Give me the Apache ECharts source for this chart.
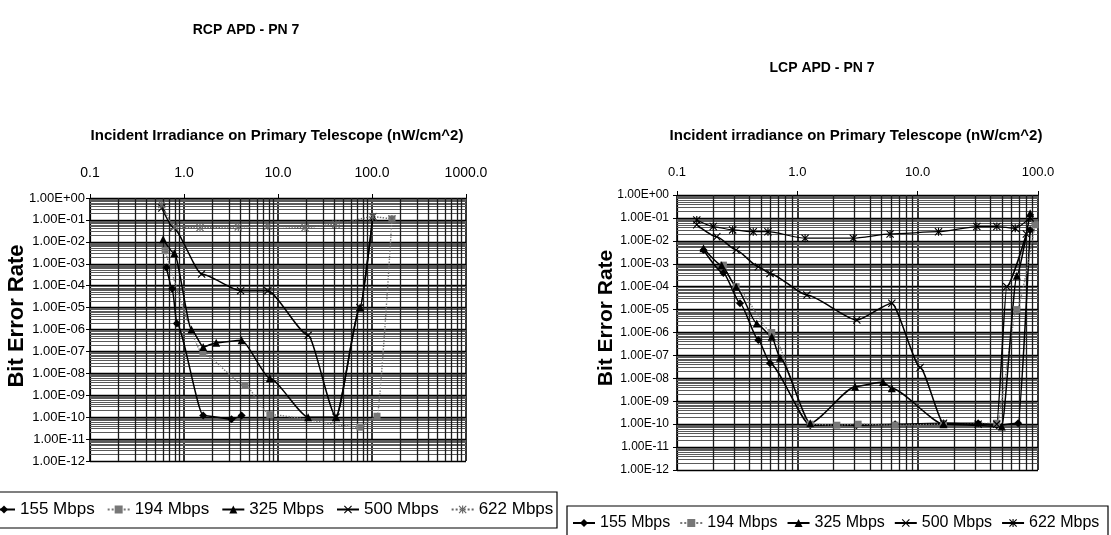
<!DOCTYPE html>
<html>
<head>
<meta charset="utf-8">
<script src="https://cdn.jsdelivr.net/npm/echarts@6/dist/echarts.min.js"></script>
<style>
html,body{margin:0;padding:0;background:#fff;}
#chart{width:1111px;height:535px;}
</style>
</head>
<body>
<div id="chart"></div>
<script>
// ---------------- DATA ----------------
const seriesNames = ['155 Mbps', '194 Mbps', '325 Mbps', '500 Mbps', '622 Mbps'];
const yTickLabels = ['1.00E+00','1.00E-01','1.00E-02','1.00E-03','1.00E-04','1.00E-05','1.00E-06','1.00E-07','1.00E-08','1.00E-09','1.00E-10','1.00E-11','1.00E-12'];
const xTickLabelsRcp = ['0.1', '1.0', '10.0', '100.0', '1000.0'];
const xTickLabelsLcp = ['0.1', '1.0', '10.0', '100.0'];

// RCP APD - PN 7 (left)
const rcp155X = [0.65, 0.75, 0.84, 1.6, 3.2, 4.1];
const rcp155Y = [6.8e-4, 7.2e-5, 1.9e-6, 1.2e-10, 8e-11, 1.2e-10];
const rcp194X = [0.63, 1.59, 4.46, 8.2, 74.5, 113, 163];
const rcp194Y = [4e-3, 8e-8, 2.8e-9, 1.3e-10, 3.5e-11, 1.1e-10, 0.11];
const rcp325X = [0.6, 0.79, 1.2, 1.6, 2.2, 4.1, 8.2, 20.9, 41.4, 74.5, 102];
const rcp325Y = [1.3e-2, 3e-3, 1e-6, 1.6e-7, 2.5e-7, 3.2e-7, 5.9e-9, 1e-10, 1e-10, 1e-5, 0.14];
const rcp500X = [0.58, 0.77, 1.54, 4.0, 7.8, 20.9, 41.4, 74.5, 102];
const rcp500Y = [0.35, 4.5e-2, 3.4e-4, 5.9e-5, 5.9e-5, 5.4e-7, 1e-10, 1e-5, 0.14];
const rcp622X = [0.58, 0.79, 1.48, 3.78, 7.8, 19.4, 41.4, 102, 163];
const rcp622Y = [0.5, 4.8e-2, 4.5e-2, 4.8e-2, 5.3e-2, 4.5e-2, 6.4e-2, 0.14, 0.11];

// LCP APD - PN 7 (right)
const lcp155X = [0.166, 0.243, 0.334, 0.474, 0.593, 1.28, 3.1, 6.5, 16.4, 31.8, 45.4, 68.4, 86];
const lcp155Y = [4e-3, 3.9e-4, 1.9e-5, 4.7e-7, 4.6e-8, 9e-11, 9e-11, 1e-10, 1.1e-10, 1.1e-10, 9e-11, 1.1e-10, 3e-2];
const lcp194X = [0.243, 0.31, 0.613, 1.28, 2.13, 3.2, 6.5, 16.4, 45.4, 66.7, 94.6];
const lcp194Y = [8.7e-4, 1e-4, 1e-6, 1e-10, 9e-11, 1e-10, 9e-11, 1e-10, 1.1e-10, 1e-5, 5e-2];
const lcp325X = [0.166, 0.235, 0.31, 0.46, 0.613, 0.718, 1.28, 3.02, 5.15, 6.1, 16.4, 50, 66.7, 86];
const lcp325Y = [4.7e-3, 8.7e-4, 1e-4, 2.5e-6, 6.5e-7, 8e-8, 1.1e-10, 4.3e-9, 7e-9, 3.7e-9, 1e-10, 8e-11, 3e-4, 0.16];
const lcp500X = [0.146, 0.214, 0.31, 0.474, 0.593, 1.2, 3.12, 6.1, 10.5, 16.4, 31.8, 45.4, 55, 80];
const lcp500Y = [5e-2, 1.5e-2, 4e-3, 7.4e-4, 3.8e-4, 4.3e-5, 3.5e-6, 1.9e-5, 3e-8, 1.1e-10, 1e-10, 1e-10, 1e-4, 2e-2];
const lcp622X = [0.146, 0.2, 0.29, 0.43, 0.57, 1.16, 2.92, 5.9, 14.9, 31, 45.5, 64.7, 86];
const lcp622Y = [0.081, 0.042, 0.03, 0.025, 0.025, 0.013, 0.013, 0.02, 0.025, 0.042, 0.042, 0.035, 0.1];

// ---------------- STYLE ----------------
const FONT = '"Liberation Sans",Arial,sans-serif';
const X_PATH = 'path://M0,1L1,0L5,4L9,0L10,1L6,5L10,9L9,10L5,6L1,10L0,9L4,5Z';
const AST_PATH = 'path://M0,1L1,0L5,4L9,0L10,1L6,5L10,9L9,10L5,6L1,10L0,9L4,5ZM4.3,0L5.7,0L5.7,10L4.3,10Z';

const styleRcp = [
  {color:'#000', symbol:'diamond', size:8, type:'solid', width:1.5},
  {color:'#777', symbol:'rect', size:7, type:'dotted', width:1.4},
  {color:'#000', symbol:'triangle', size:8, type:'solid', width:1.5},
  {color:'#000', symbol:X_PATH, size:8, type:'solid', width:1.5},
  {color:'#666', symbol:AST_PATH, size:8, type:'dotted', width:1.4}
];
const styleLcp = [
  {color:'#000', symbol:'diamond', size:8, type:'solid', width:1.5},
  {color:'#777', symbol:'rect', size:7, type:'dotted', width:1.4},
  {color:'#000', symbol:'triangle', size:8, type:'solid', width:1.5},
  {color:'#000', symbol:X_PATH, size:8, type:'solid', width:1.5},
  {color:'#000', symbol:AST_PATH, size:8, type:'solid', width:1.2}
];

function zip(xs, ys){ return xs.map((x,i)=>[x, ys[i]]); }
function mkSeries(name, xs, ys, st, gi){
  return {
    type:'line', name:name, xAxisIndex:gi, yAxisIndex:gi,
    data: zip(xs, ys), smooth:0.2, smoothMonotone:'x',
    symbol: st.symbol, symbolSize: st.size, showAllSymbol:true,
    lineStyle:{color:st.color, width:st.width, type:st.type},
    itemStyle:{color:st.color},
    emphasis:{disabled:true}, z:5
  };
}
// minor log grid positions (m * 10^e)
function minors(e0, e1){
  const out = [];
  for (let e = e0; e < e1; e++) for (let m = 2; m <= 9; m++) out.push(m * Math.pow(10, e));
  return out;
}
function gridSeries(gi, xe0, xe1){
  const vx = minors(xe0, xe1).map(v => ({xAxis:v, lineStyle:{color:'#1a1a1a', width:1.3, type:'solid'}}));
  // horizontal minors on the hidden linear (log10) helper axis
  const hy = minors(-12, 0).map(v => ({yAxis:Math.log10(v), lineStyle:{color:'#5a5a5a', width:1, type:'solid'}}));
  return {
    type:'line', name:'grid'+gi, xAxisIndex:gi, yAxisIndex:2+gi, data:[], silent:true, z:1,
    markLine:{silent:true, symbol:['none','none'], label:{show:false}, animation:false, precision:6,
      emphasis:{disabled:true}, data: hy.concat(vx)}
  };
}

const rcpX = [rcp155X, rcp194X, rcp325X, rcp500X, rcp622X];
const rcpY = [rcp155Y, rcp194Y, rcp325Y, rcp500Y, rcp622Y];
const lcpX = [lcp155X, lcp194X, lcp325X, lcp500X, lcp622X];
const lcpY = [lcp155Y, lcp194Y, lcp325Y, lcp500Y, lcp622Y];
const lcpNames = seriesNames.map(n => n + '\u200b');

const series = [gridSeries(0, -1, 3), gridSeries(1, -1, 2)];
seriesNames.forEach((n,i)=> series.push(mkSeries(n, rcpX[i], rcpY[i], styleRcp[i], 0)));
lcpNames.forEach((n,i)=> series.push(mkSeries(n, lcpX[i], lcpY[i], styleLcp[i], 1)));

function xAxisCfg(gi, maxV, labels, fs, margin){
  return {
    type:'log', logBase:10, gridIndex:gi, position:'top', min:0.1, max:maxV, interval:1,
    axisLine:{show:true, onZero:false, lineStyle:{color:'#000', width:1.2}},
    axisTick:{show:true, length:4, lineStyle:{color:'#000'}},
    axisLabel:{color:'#000', fontSize:fs, fontFamily:FONT, margin:margin,
      formatter: v => labels[Math.round(Math.log10(v)) + 1]},
    splitLine:{show:true, lineStyle:{color:'#000', width:1.6}}
  };
}
function yAxisCfg(gi, fs, margin){
  return {
    type:'log', logBase:10, gridIndex:gi, min:1e-12, max:1, interval:1,
    axisLine:{show:true, onZero:false, lineStyle:{color:'#000', width:1.2}},
    axisTick:{show:true, length:4, lineStyle:{color:'#000'}},
    axisLabel:{color:'#000', fontSize:fs, fontFamily:FONT, margin:margin,
      formatter: v => yTickLabels[Math.round(-Math.log10(v))]},
    splitLine:{show:true, lineStyle:{color:'#000', width:1.3}}
  };
}
function helperY(gi){
  return {type:'value', gridIndex:gi, min:-12, max:0, show:false,
    axisLine:{show:false}, axisTick:{show:false}, axisLabel:{show:false}, splitLine:{show:false}};
}

function txt(x, y, text, size, rot){
  return {type:'text', x:x, y:y, rotation:rot || 0, silent:true, z:10,
    style:{text:text, font:'bold ' + size + 'px ' + FONT, fill:'#000',
      align:'center', verticalAlign:'middle', textAlign:'center', textVerticalAlign:'middle'}};
}

const option = {
  animation:false,
  backgroundColor:'#fff',
  grid:[
    {left:90, top:198, width:376, height:263},
    {left:677, top:195, width:361, height:275}
  ],
  xAxis:[xAxisCfg(0, 1000, xTickLabelsRcp, 14, 18), xAxisCfg(1, 100, xTickLabelsLcp, 13, 16)],
  yAxis:[yAxisCfg(0, 13, 5), yAxisCfg(1, 12, 8), helperY(0), helperY(1)],
  legend:[
    {data:seriesNames, left:-8, top:501, width:570, orient:'horizontal', itemWidth:22, itemHeight:10, itemGap:12,
      textStyle:{color:'#000', fontSize:17, fontFamily:FONT}, selectedMode:false, padding:0},
    {data:lcpNames, left:572, top:515, width:545, orient:'horizontal', itemWidth:22, itemHeight:10, itemGap:9,
      textStyle:{color:'#000', fontSize:16, fontFamily:FONT}, selectedMode:false, padding:0}
  ],
  graphic:[
    txt(246, 30, 'RCP APD - PN 7', 14),
    txt(822, 68, 'LCP APD - PN 7', 14),
    txt(277, 136, 'Incident Irradiance on Primary Telescope (nW/cm^2)', 15),
    txt(856, 136, 'Incident irradiance on Primary Telescope (nW/cm^2)', 15),
    txt(17, 316, 'Bit Error Rate', 22, Math.PI / 2),
    txt(606, 318, 'Bit Error Rate', 21, Math.PI / 2),
    {type:'rect', silent:true, shape:{x:-2, y:492, width:559, height:36}, style:{fill:'none', stroke:'#000', lineWidth:1.2}},
    {type:'rect', silent:true, shape:{x:567, y:506, width:541, height:36}, style:{fill:'none', stroke:'#000', lineWidth:1.2}}
  ],
  series:series
};

const chart = echarts.init(document.getElementById('chart'), null, {renderer:'canvas'});
chart.setOption(option);
</script>
</body>
</html>
